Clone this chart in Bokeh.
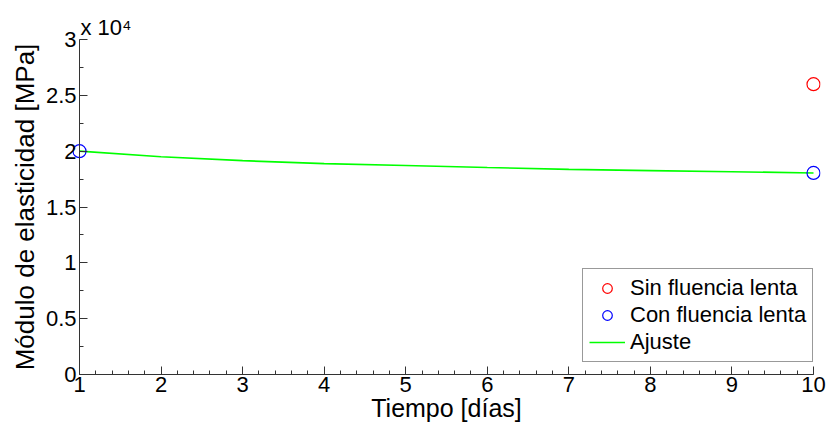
from bokeh.plotting import figure
from bokeh.models import (Range1d, SingleIntervalTicker, Legend, LegendItem, Span, Title,
                          CustomJSTickFormatter)
from bokeh.embed import file_html
from bokeh.resources import INLINE

# ---- data ----
dias_sin = [10]
modulo_sin = [26000]
dias_con = [1, 10]
modulo_con = [20000, 18050]
dias_ajuste = [1, 2, 3, 4, 5, 6, 7, 8, 9, 10]
modulo_ajuste = [20000, 19500, 19150, 18880, 18720, 18540, 18370, 18260, 18160, 18050]
serie_labels = ["Sin fluencia lenta", "Con fluencia lenta", "Ajuste"]
x_label = "Tiempo [días]"
y_label = "Módulo de elasticidad [MPa]"
exponent_label = "x 10\u2074"

FONT = "Liberation Sans"
W, H = 829, 428
BL, BR, BT, BB = 72, 9, 39, 54
frame_w = W - BL - BR
pad_px = 7
x0, x1 = 1, 10
upp = (x1 - x0) / (frame_w - 2 * pad_px)

p = figure(width=W, height=H, output_backend="svg", toolbar_location=None,
           x_range=Range1d(x0 - pad_px * upp, x1 + pad_px * upp),
           y_range=Range1d(0, 30000),
           min_border_left=BL, min_border_right=BR, min_border_top=BT, min_border_bottom=BB,
           outline_line_color=None, background_fill_color="white", border_fill_color="white")
p.grid.grid_line_color = None

p.title = Title(text=exponent_label, align="left", offset=8, standoff=0,
                text_font=FONT, text_font_size="22px", text_font_style="normal",
                text_color="black")

AX = "#333333"
for ax in (p.xaxis[0], p.yaxis[0]):
    ax.major_tick_line_color = AX
    ax.minor_tick_line_color = AX
    ax.major_label_text_font = FONT
    ax.major_label_text_font_size = "22px"
    ax.major_label_text_color = "black"
    ax.axis_label_text_font = FONT
    ax.axis_label_text_font_style = "normal"
    ax.axis_label_text_color = "black"

xa = p.xaxis[0]
xa.ticker = SingleIntervalTicker(interval=1, num_minor_ticks=5)
xa.bounds = (x0, x1)
xa.axis_line_color = AX
xa.major_tick_in = 8
xa.major_tick_out = 0
xa.minor_tick_in = 4
xa.minor_tick_out = 0
xa.major_label_standoff = 2
xa.axis_label = x_label
xa.axis_label_text_font_size = "25px"
xa.axis_label_standoff = -1

# y axis drawn at the frame edge; its ticks are shifted in to sit on x = 1
ya = p.yaxis[0]
ya.ticker = SingleIntervalTicker(interval=5000, num_minor_ticks=2)
ya.axis_line_color = None
ya.major_tick_out = -pad_px
ya.major_tick_in = pad_px + 8
ya.minor_tick_out = -pad_px
ya.minor_tick_in = pad_px + 4
ya.major_label_standoff = 3
ya.formatter = CustomJSTickFormatter(code="return (tick/1e4).toString()")
ya.axis_label = y_label
ya.axis_label_text_font_size = "26px"
ya.axis_label_standoff = 3
p.add_layout(Span(location=x0, dimension="height", line_color=AX, line_width=1))

# data glyphs
r_fit = p.line(dias_ajuste, modulo_ajuste, line_color="#00ff00", line_width=1.6)
r_sin = p.scatter(dias_sin, modulo_sin, marker="circle", size=13, fill_color=None,
                  line_color="#ff0000", line_width=1.2)
r_con = p.scatter(dias_con, modulo_con, marker="circle", size=13, fill_color=None,
                  line_color="#0000ff", line_width=1.2)

legend = Legend(items=[LegendItem(label=serie_labels[0], renderers=[r_sin]),
                       LegendItem(label=serie_labels[1], renderers=[r_con]),
                       LegendItem(label=serie_labels[2], renderers=[r_fit])],
                location=(510, 12))
legend.label_text_font = FONT
legend.label_text_font_size = "22px"
legend.label_text_color = "black"
legend.label_height = 24
legend.glyph_height = 24
legend.glyph_width = 36
legend.label_standoff = 5
legend.spacing = 1
legend.padding = 6
legend.margin = 0
legend.border_line_color = AX
legend.border_line_width = 1
legend.background_fill_color = "white"
legend.background_fill_alpha = 1
p.add_layout(legend, "center")

open("out.html", "w").write(file_html(p, INLINE))
